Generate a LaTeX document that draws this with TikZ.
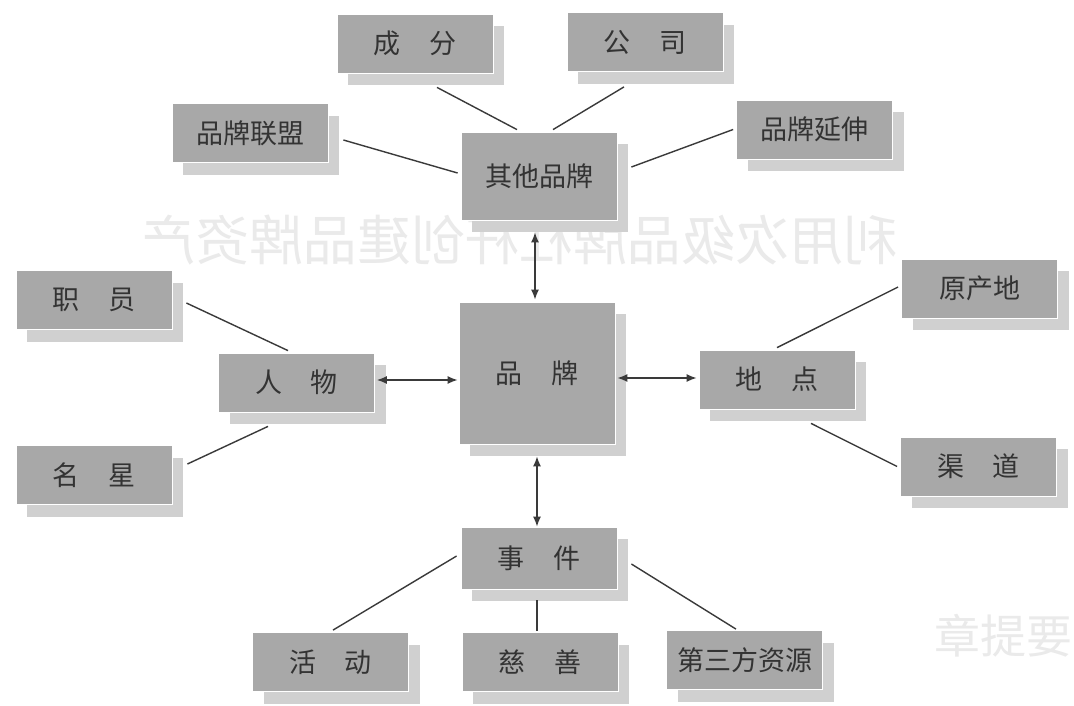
\documentclass[tikz,border=0pt]{standalone}
\usepackage{fontspec}
\newfontfamily\cjk{Noto Sans CJK SC}
\usetikzlibrary{calc,arrows.meta}
\definecolor{boxgray}{HTML}{A8A8A8}
\definecolor{shadowgray}{HTML}{D0D0D0}
\definecolor{txtgray}{HTML}{333333}
\definecolor{linegray}{HTML}{3A3A3A}
\definecolor{ghostgray}{HTML}{EAEAEA}
\newcommand\sgap{\hspace{1.05em}}
\begin{document}
\begin{tikzpicture}[x=1pt,y=-1pt,
  bx/.style={fill=boxgray, draw=white, line width=0.8pt,
    minimum width=156pt, minimum height=59pt, inner sep=0pt,
    text=txtgray, font=\cjk\fontsize{27}{31}\selectfont,
    preaction={fill=shadowgray, draw=none,
      transform canvas={shift={(11pt,-12pt)}}}},
  ghost/.style={text=ghostgray, inner sep=0pt},
  link/.style={draw=linegray, line width=1.4pt},
  dbl/.style={link, {Latex[length=10pt,width=8pt]}-{Latex[length=10pt,width=8pt]}}]
\fill[white] (0,0) rectangle (1074,705);
\useasboundingbox (0,0) rectangle (1074,705);

% faint show-through from the scanned page
\node[ghost, font=\cjk\fontsize{54}{58}\selectfont] (g1) at (520,240)
  {\scalebox{-1}[1]{利用次级品牌杠杆创建品牌资产}};
\node[ghost, font=\cjk\fontsize{46}{50}\selectfont, anchor=west] (g2) at (934,636) {章提要};

% nodes
\node[bx] (cf) at (415,43.5) {成\sgap 分};
\node[bx] (gs) at (645,42) {公\sgap 司};
\node[bx] (lm) at (250,133) {品牌联盟};
\node[bx, minimum height=88pt] (qt) at (539,176) {其他品牌};
\node[bx] (yc) at (814.5,129.5) {品牌延伸};
\node[bx] (zy) at (94,300) {职\sgap 员};
\node[bx] (rw) at (296.5,382.5) {人\sgap 物};
\node[bx] (mx) at (94,475) {名\sgap 星};
\node[bx, minimum height=142pt] (pp) at (537,373) {品\sgap 牌};
\node[bx] (dd) at (777,379.5) {地\sgap 点};
\node[bx] (cd) at (979.5,288.5) {原产地};
\node[bx] (qd) at (978.5,466.5) {渠\sgap 道};
\node[bx, minimum height=62pt] (sj) at (539,558) {事\sgap 件};
\node[bx] (hd) at (330.5,662) {活\sgap 动};
\node[bx] (cs) at (540,662) {慈\sgap 善};
\node[bx] (ds) at (744.5,660) {第三方资源};

% plain links
\draw[link] ($(cf.south)+(22,14)$) -- ($(qt.north)+(-22,-2)$);
\draw[link] ($(gs.south)+(-21,15)$) -- ($(qt.north)+(14,-2)$);
\draw[link] ($(lm.east)+(15,7)$) -- ($(qt.west)+(-3,-3)$);
\draw[link] ($(qt.east)+(14,-9)$) -- ($(yc.west)+(-3,0)$);
\draw[link] ($(zy.east)+(14,3)$) -- ($(rw.north)+(-8.5,-2)$);
\draw[link] ($(mx.east)+(15,-11)$) -- ($(rw.south)+(-28.5,14)$);
\draw[link] ($(dd.north)+(0,-2)$) -- ($(cd.west)+(-3,-1.5)$);
\draw[link] ($(dd.south)+(34,14)$) -- ($(qd.west)+(-3,0)$);
\draw[link] ($(sj.west)+(-4,-2)$) -- ($(hd.north)+(2.5,-2)$);
\draw[link] ($(sj.south)+(-2,11)$) -- ($(cs.north)+(-3,-1)$);
\draw[link] ($(sj.east)+(14,6)$) -- ($(ds.north)+(-8.5,-1)$);

% double arrows
\draw[dbl] ($(qt.south)+(-4,12)$) -- ($(pp.north)+(-2,-2)$);
\draw[dbl] ($(rw.east)+(2,-2.5)$) -- ($(pp.west)+(-1,7)$);
\draw[dbl] ($(pp.east)+(2,5)$) -- ($(dd.west)+(-2,-1.5)$);
\draw[dbl] ($(pp.south)+(0,12)$) -- ($(sj.north)+(-2,0)$);
\end{tikzpicture}
\end{document}
